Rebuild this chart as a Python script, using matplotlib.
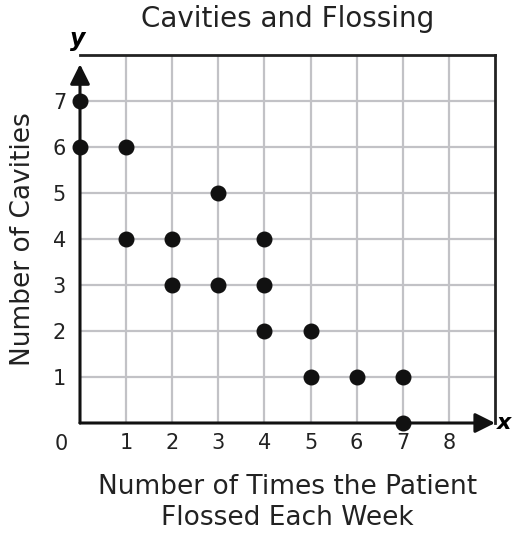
import matplotlib.pyplot as plt

flossed = [0, 0, 1, 1, 2, 2, 3, 3, 4, 4, 4, 5, 5, 6, 7, 7]
cavities = [7, 6, 6, 4, 4, 3, 5, 3, 4, 3, 2, 2, 1, 1, 1, 0]
x_ticks = [1, 2, 3, 4, 5, 6, 7, 8]
y_ticks = [1, 2, 3, 4, 5, 6, 7]

fig = plt.figure(figsize=(5.14, 5.33), dpi=100)
ax = fig.add_axes([80 / 514, 110 / 533, 415 / 514, 368 / 533])
ax.set_xlim(0, 9)
ax.set_ylim(0, 8)

for v in x_ticks:
    ax.axvline(v, color="#c2c2c6", lw=1.6, zorder=1)
for v in y_ticks:
    ax.axhline(v, color="#c2c2c6", lw=1.6, zorder=1)

for s in ax.spines.values():
    s.set_linewidth(2)
    s.set_color("#222222")
ax.spines["left"].set_visible(False)
ax.spines["bottom"].set_visible(False)

ax.annotate("", xy=(0, 7.8), xytext=(0, 0), annotation_clip=False,
            arrowprops=dict(arrowstyle="-|>", mutation_scale=30, lw=2.2,
                            color="#111111", shrinkA=0, shrinkB=0))
ax.annotate("", xy=(9.0, 0), xytext=(0, 0), annotation_clip=False,
            arrowprops=dict(arrowstyle="-|>", mutation_scale=30, lw=2.2,
                            color="#111111", shrinkA=0, shrinkB=0))

ax.scatter(flossed, cavities, s=110, color="#111111", zorder=5, clip_on=False)

ax.set_xticks(x_ticks)
ax.set_yticks(y_ticks)
ax.tick_params(length=0, labelsize=15, colors="#222222")
ax.tick_params(axis="x", pad=7)
ax.tick_params(axis="y", pad=10)
ax.text(-0.4, -0.23, "0", fontsize=15, ha="center", va="top", color="#222222")

ax.text(-0.05, 8.08, "y", fontsize=17, style="italic", weight="bold", ha="center", va="bottom")
ax.text(9.05, 0, "x", fontsize=16, style="italic", weight="bold", ha="left", va="center")

ax.set_title("Cavities and Flossing", fontsize=20, pad=20, color="#222222")
ax.set_xlabel("Number of Times the Patient\nFlossed Each Week", fontsize=19,
              labelpad=15, color="#222222", linespacing=1.25)
ax.set_ylabel("Number of Cavities", fontsize=19, labelpad=12, color="#222222")

fig.savefig("out.png", dpi=100)
